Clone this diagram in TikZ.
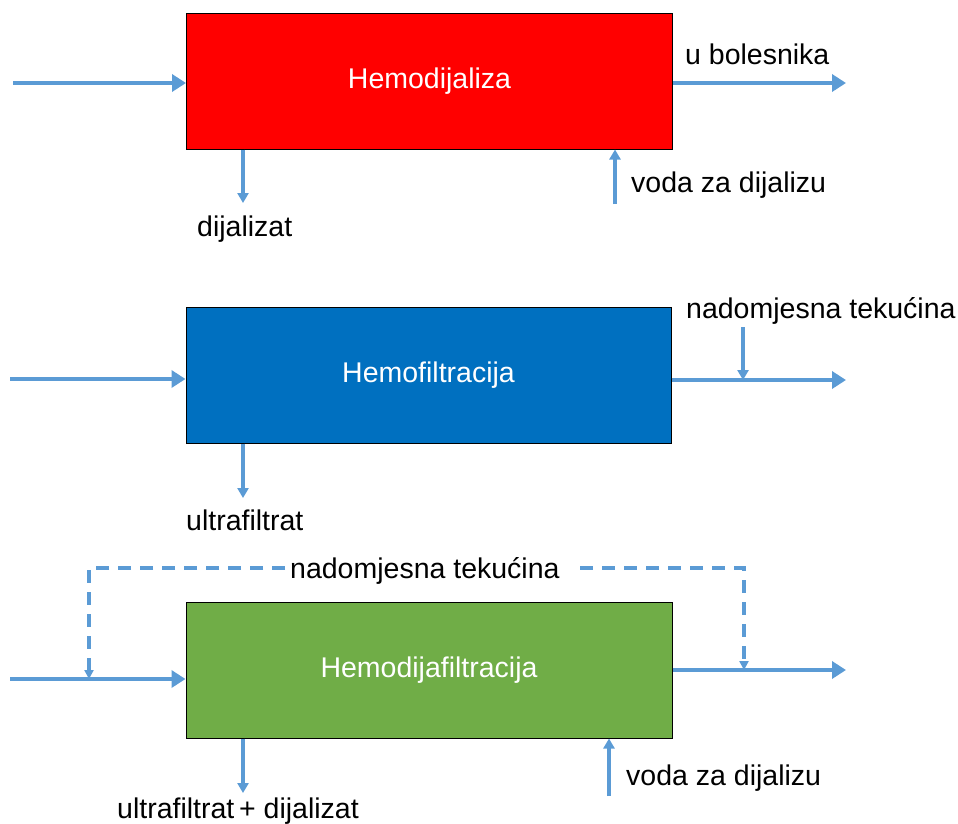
\documentclass[tikz,border=0pt]{standalone}
\usepackage{fontspec}
\setmainfont{Liberation Sans}
\usetikzlibrary{arrows.meta}
\definecolor{arr}{HTML}{5B9BD5}
\definecolor{redbox}{HTML}{FF0000}
\definecolor{bluebox}{HTML}{0070C0}
\definecolor{greenbox}{HTML}{70AD47}
\begin{document}
\begin{tikzpicture}[x=1pt,y=-1pt,
  proc/.style={draw=black, line width=1pt, minimum width=486pt, minimum height=136pt, inner sep=0pt, text=white, font=\fontsize{28.5}{34}\selectfont},
  lbl/.style={inner sep=0pt, anchor=base west, font=\fontsize{28.5}{34}\selectfont},
  mainarr/.style={draw=arr, line width=4.5pt, -{Triangle[width=17pt,length=14pt]}},
  smallarr/.style={draw=arr, line width=3.5pt, -{Triangle[width=11pt,length=10pt]}},
  dasharr/.style={draw=arr, line width=3.5pt, dash pattern=on 13pt off 9pt, -{Triangle[width=9pt,length=9pt]}}
]
\useasboundingbox (0,0) rectangle (958,823);

% ---- Hemodijaliza
\node[proc, fill=redbox] (b1) at (429.5,81) {Hemodijaliza};
\coordinate (i1) at (13,83);
\coordinate (o1) at (846,83);
\draw[mainarr] (i1) -- (i1 -| b1.west);
\draw[mainarr] (o1 -| b1.east) -- (o1);
\node[lbl] (t1) at (685,64) {u bolesnika};
\coordinate (d1) at (243,203);
\draw[smallarr] (d1 |- b1.south) -- (d1);
\node[lbl] (t2) at (197,236) {dijalizat};
\coordinate (u1) at (615,204);
\draw[smallarr] (u1) -- (u1 |- b1.south);
\node[lbl] (t3) at (631,192) {voda za dijalizu};

% ---- Hemofiltracija
\node[proc, fill=bluebox, minimum width=485pt] (b2) at (428.5,375) {Hemofiltracija};
\coordinate (i2) at (10,379);
\coordinate (o2) at (846,380);
\draw[mainarr] (i2) -- (i2 -| b2.west);
\draw[mainarr] (o2 -| b2.east) -- (o2);
\node[lbl] (t4) at (686,318) {nadomjesna tekućina};
\coordinate (n2) at (743,327);
\draw[smallarr] (n2) -- (n2 |- o2);
\coordinate (d2) at (243,498);
\draw[smallarr] (d2 |- b2.south) -- (d2);
\node[lbl] (t5) at (186,530) {ultrafiltrat};

% ---- Hemodijafiltracija
\node[proc, fill=greenbox] (b3) at (429,670) {Hemodijafiltracija};
\coordinate (i3) at (10,679);
\coordinate (o3) at (846,670);
\draw[mainarr] (i3) -- (i3 -| b3.west);
\draw[mainarr] (o3 -| b3.east) -- (o3);
\node[lbl] (t6) at (290,578) {nadomjesna tekućina};
\coordinate (dl) at (285,568);
\coordinate (dr) at (580,568);
\coordinate (cl) at (89,568);
\coordinate (cr) at (744,568);
\draw[dasharr] (dl) -- (cl) -- (cl |- i3);
\draw[dasharr] (dr) -- (cr) -- (cr |- o3);
\coordinate (d3) at (243,793);
\draw[smallarr] (d3 |- b3.south) -- (d3);
\node[lbl] (t7) at (117,818) {ultrafiltrat\,+ dijalizat};
\coordinate (u3) at (609,796);
\draw[smallarr] (u3) -- (u3 |- b3.south);
\node[lbl] (t8) at (626,785) {voda za dijalizu};
\end{tikzpicture}
\end{document}
